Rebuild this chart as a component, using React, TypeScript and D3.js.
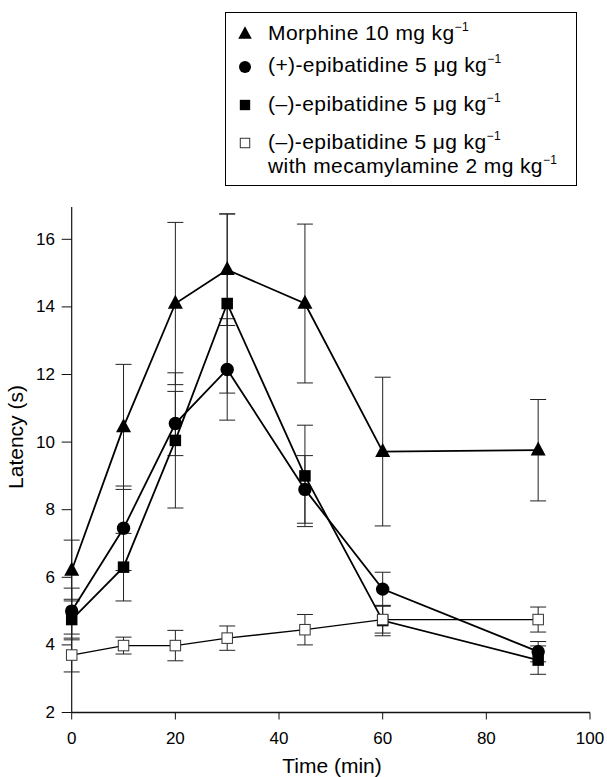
import React from "react";
import * as d3 from "d3";

const times = [0, 10, 20, 30, 45, 60, 90];
const morphine = [6.2, 10.45, 14.1, 15.1, 14.1, 9.72, 9.76];
const morphineErr = [0.9, 1.85, 2.4, 1.65, 2.35, 2.2, 1.5];
const plusEpi = [5.0, 7.45, 10.55, 12.15, 8.6, 5.65, 3.8];
const plusEpiErr = [0.68, 1.25, 0.95, 1.5, 1.0, 0.5, 0.3];
const minusEpi = [4.75, 6.3, 10.05, 14.1, 9.0, 4.72, 3.55];
const minusEpiErr = [0.6, 1.0, 2.0, 2.65, 1.5, 0.45, 0.42];
const mecamyl = [3.7, 3.98, 3.98, 4.2, 4.45, 4.75, 4.75];
const mecamylErr = [0.5, 0.25, 0.45, 0.36, 0.45, 0.4, 0.37];

const xTicks = [0, 20, 40, 60, 80, 100];
const yTicks = [2, 4, 6, 8, 10, 12, 14, 16];

type Shape = "triangle" | "circle" | "square" | "openSquare";
const series: { key: string; values: number[]; err: number[]; shape: Shape }[] = [
  { key: "morphine", values: morphine, err: morphineErr, shape: "triangle" },
  { key: "plus", values: plusEpi, err: plusEpiErr, shape: "circle" },
  { key: "minus", values: minusEpi, err: minusEpiErr, shape: "square" },
  { key: "meca", values: mecamyl, err: mecamylErr, shape: "openSquare" },
];

const legendItems: { shape: Shape; lines: [string, string][] }[] = [
  { shape: "triangle", lines: [["Morphine 10 mg kg", "−1"]] },
  { shape: "circle", lines: [["(+)-epibatidine 5 μg kg", "−1"]] },
  { shape: "square", lines: [["(–)-epibatidine 5 μg kg", "−1"]] },
  {
    shape: "openSquare",
    lines: [
      ["(–)-epibatidine 5 μg kg", "−1"],
      ["with mecamylamine 2 mg kg", "−1"],
    ],
  },
];

const FONT = "Arial, 'Liberation Sans', Helvetica, sans-serif";

function Marker({ shape, x, y, s = 1 }: { shape: Shape; x: number; y: number; s?: number }) {
  if (shape === "triangle") {
    const w = 15 * s, h = 14 * s;
    return (
      <path
        d={`M${x},${y - h * 0.62} L${x + w / 2},${y + h * 0.38} L${x - w / 2},${y + h * 0.38} Z`}
        fill="#000"
      />
    );
  }
  if (shape === "circle") return <circle cx={x} cy={y} r={6.7 * s} fill="#000" />;
  if (shape === "square") {
    const w = 11.5 * s;
    return <rect x={x - w / 2} y={y - w / 2} width={w} height={w} fill="#000" />;
  }
  const w = 10.5 * s;
  return <rect x={x - w / 2} y={y - w / 2} width={w} height={w} fill="#fff" stroke="#333" strokeWidth={1} />;
}

export default function App() {
  const x = d3.scaleLinear().domain([0, 100]).range([71.7, 590]);
  const y = d3.scaleLinear().domain([2, 17]).range([712.5, 205.5]);
  const line = d3
    .line<number>()
    .x((_, i) => x(times[i]))
    .y((d) => y(d));

  const legendRowsY = [40, 72, 111, 149];
  return (
    <svg width={607} height={777} style={{ position: "absolute", left: 0, top: 0 }} fontFamily={FONT}>
      <rect width={607} height={777} fill="#fff" />
      {/* legend */}
      <rect x={225.5} y={12.5} width={351} height={173} fill="none" stroke="#000" strokeWidth={1} />
      {legendItems.map((it, i) => (
        <g key={i}>
          <Marker shape={it.shape} x={245} y={legendRowsY[i] - 6 + (it.shape === "circle" ? 1 : 0)} s={0.9} />
          {it.lines.map((ln, j) => (
            <text key={j} x={268} y={legendRowsY[i] + j * 24} fontSize={21} letterSpacing={0.4} fill="#000">
              {ln[0]}
              <tspan fontSize={12} dy={-9}>
                {ln[1]}
              </tspan>
            </text>
          ))}
        </g>
      ))}

      {/* axes */}
      <line x1={x(0)} x2={x(0)} y1={y(2)} y2={207} stroke="#111" strokeWidth={1.2} />
      <line x1={x(0)} x2={x(100)} y1={y(2)} y2={y(2)} stroke="#111" strokeWidth={1.4} />
      {yTicks.map((t) => (
        <g key={t}>
          <line x1={x(0) - 10} x2={x(0)} y1={y(t)} y2={y(t)} stroke="#111" strokeWidth={1} />
          <text x={55} y={y(t)} fontSize={17} textAnchor="end" dominantBaseline="central" fill="#000">
            {t}
          </text>
        </g>
      ))}
      {xTicks.map((t) => (
        <g key={t}>
          <line x1={x(t)} x2={x(t)} y1={y(2)} y2={y(2) + 7} stroke="#111" strokeWidth={1} />
          <text x={x(t)} y={744} fontSize={17} textAnchor="middle" fill="#000">
            {t}
          </text>
        </g>
      ))}
      <text x={332} y={773} fontSize={21} textAnchor="middle" fill="#000">
        Time (min)
      </text>
      <text
        transform={`translate(23,437) rotate(-90)`}
        fontSize={21}
        textAnchor="middle"
        fill="#000"
      >
        Latency (s)
      </text>

      {/* error bars */}
      {series.map((s) =>
        s.values.map((v, i) => {
          const cx = x(times[i]);
          const y1 = y(v + s.err[i]);
          const y2 = y(v - s.err[i]);
          return (
            <g key={s.key + i} stroke="#222" strokeWidth={1}>
              <line x1={cx} x2={cx} y1={y1} y2={y2} />
              <line x1={cx - 8} x2={cx + 8} y1={y1} y2={y1} />
              <line x1={cx - 8} x2={cx + 8} y1={y2} y2={y2} />
            </g>
          );
        })
      )}

      {/* lines */}
      {series.map((s) => (
        <path
          key={s.key}
          d={line(s.values) || ""}
          fill="none"
          stroke="#000"
          strokeWidth={s.shape === "openSquare" ? 1.3 : 1.8}
        />
      ))}

      {/* markers */}
      {series.map((s) =>
        s.values.map((v, i) => <Marker key={s.key + "m" + i} shape={s.shape} x={x(times[i])} y={y(v)} />)
      )}
    </svg>
  );
}
